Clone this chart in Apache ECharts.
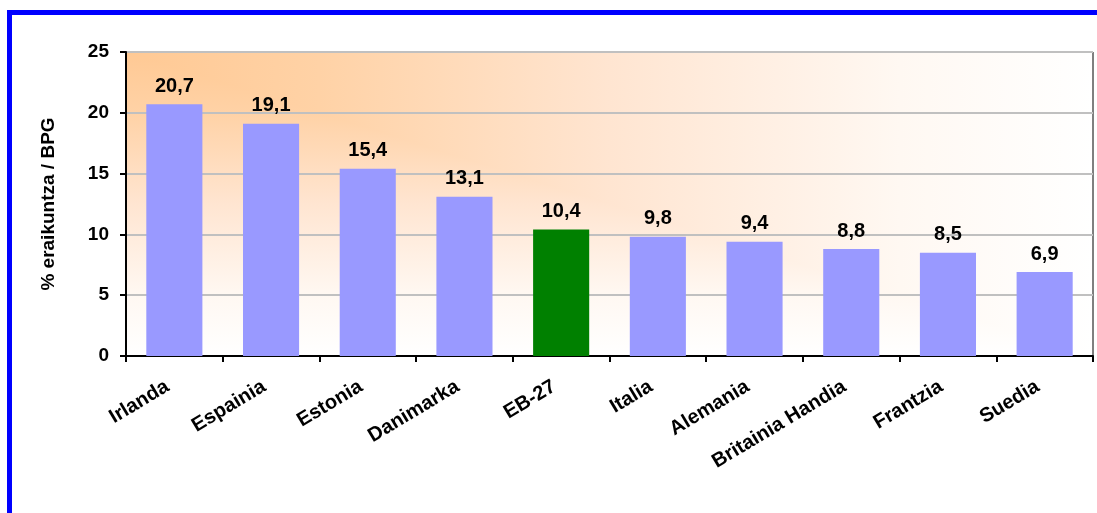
<!DOCTYPE html>
<html>
<head>
<meta charset="utf-8">
<script src="https://cdn.jsdelivr.net/npm/echarts@6/dist/echarts.min.js"></script>
<style>
  html, body { margin: 0; padding: 0; background: #fff; }
  #chart { width: 1097px; height: 513px; }
</style>
</head>
<body>
<div id="chart"></div>
<script>
// herrialdeak eta balioak
var categories = ["Irlanda", "Espainia", "Estonia", "Danimarka", "EB-27", "Italia", "Alemania", "Britainia Handia", "Frantzia", "Suedia"];
var values = [20.7, 19.1, 15.4, 13.1, 10.4, 9.8, 9.4, 8.8, 8.5, 6.9];
var highlight = "EB-27";
var yTicks = [0, 5, 10, 15, 20, 25];

var chart = echarts.init(document.getElementById("chart"));

var barData = values.map(function (v, i) {
  return {
    value: v,
    itemStyle: { color: categories[i] === highlight ? "#008000" : "#9999FF" }
  };
});

var font = "Arial, 'Liberation Sans', sans-serif";

// plot area (grid)
var gl = 126, gt = 52, gw = 967, gh = 304;

// fondoko gradientea (ertzetik)
var stops = [
  { offset: 0, color: "#FFC994" },
  { offset: 0.2, color: "#FFD2A6" },
  { offset: 0.5, color: "#FFE5D1" },
  { offset: 0.8, color: "#FFF8F2" },
  { offset: 1, color: "#FFFFFF" }
];

var option = {
  animation: false,
  graphic: [
    // marko urdina
    { type: "line", shape: { x1: 7, y1: 12.5, x2: 1097, y2: 12.5 }, style: { stroke: "#0000FF", lineWidth: 5 } },
    { type: "line", shape: { x1: 9.5, y1: 10, x2: 9.5, y2: 513 }, style: { stroke: "#0000FF", lineWidth: 5 } },
    {
      type: "rect", z: -2, silent: true,
      shape: { x: gl, y: gt, width: gw, height: gh },
      style: { fill: { type: "linear", x: 0, y: 0, x2: 1, y2: 0, colorStops: stops } }
    },
    {
      type: "polygon", z: -1, silent: true,
      shape: { points: [[gl, gt], [gl, gt + gh], [gl + gw, gt + gh]] },
      style: { fill: { type: "linear", x: 0, y: 0, x2: 0, y2: 1, colorStops: stops } }
    }
  ],
  grid: {
    left: gl,
    top: gt,
    right: 1097 - gl - gw,
    bottom: 513 - gt - gh,
    show: true,
    borderColor: "#000",
    borderWidth: 1,
    backgroundColor: "transparent"
  },
  xAxis: {
    type: "category",
    data: categories,
    axisLine: { lineStyle: { color: "#000", width: 2 } },
    axisTick: { show: true, length: 6, lineStyle: { color: "#000", width: 2 } },
    axisLabel: {
      rotate: 31,
      margin: 25,
      padding: [0, 8, 0, 0],
      color: "#000",
      fontWeight: "bold",
      fontSize: 20,
      fontFamily: font,
      interval: 0
    }
  },
  yAxis: {
    type: "value",
    min: yTicks[0],
    max: yTicks[yTicks.length - 1],
    interval: 5,
    name: "% eraikuntza / BPG",
    nameLocation: "middle",
    nameGap: 68,
    nameTextStyle: { color: "#000", fontWeight: "bold", fontSize: 19, fontFamily: font },
    axisLine: { show: true, lineStyle: { color: "#000", width: 2 } },
    axisTick: { show: true, length: 6, lineStyle: { color: "#000", width: 2 } },
    axisLabel: { color: "#000", fontWeight: "bold", fontSize: 19, fontFamily: font, margin: 17 },
    splitLine: { show: true, lineStyle: { color: "#C0C0C0", width: 2 } }
  },
  series: [{
    type: "bar",
    data: barData,
    barWidth: "58%",
    label: {
      show: true,
      position: "top",
      distance: 8,
      color: "#000",
      fontWeight: "bold",
      fontSize: 20,
      fontFamily: font,
      formatter: function (p) { return String(p.value.toFixed(1)).replace(".", ","); }
    }
  }]
};

chart.setOption(option);
</script>
</body>
</html>
